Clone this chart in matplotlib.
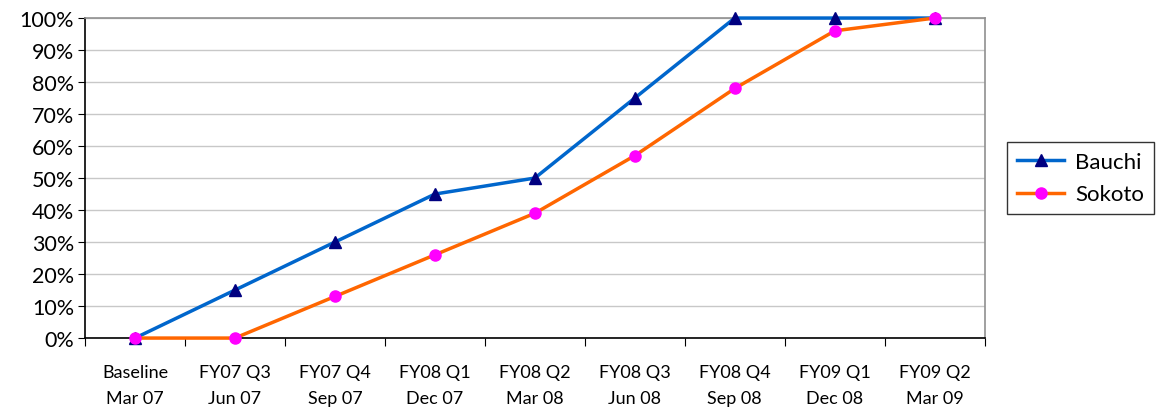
import matplotlib
matplotlib.use("Agg")
import matplotlib.pyplot as plt
from matplotlib.ticker import FixedLocator, NullFormatter, FuncFormatter

# data
periods = ["Baseline\nMar 07", "FY07 Q3\nJun 07", "FY07 Q4\nSep 07", "FY08 Q1\nDec 07",
           "FY08 Q2\nMar 08", "FY08 Q3\nJun 08", "FY08 Q4\nSep 08", "FY09 Q1\nDec 08",
           "FY09 Q2\nMar 09"]
bauchi = [0, 15, 30, 45, 50, 75, 100, 100, 100]
sokoto = [0, 0, 13, 26, 39, 57, 78, 96, 100]

plt.rcParams["font.family"] = ["Lato", "DejaVu Sans"]

fig = plt.figure(figsize=(11.57, 4.14), dpi=100)
ax = fig.add_axes([0.0735, 0.181, 0.7775, 0.773])

x = list(range(len(periods)))
ax.plot(x, bauchi, color="#0066CC", lw=2.5, marker="^", ms=9,
        mfc="#000080", mec="#000080", label="Bauchi", zorder=3, clip_on=False)
ax.plot(x, sokoto, color="#FF6600", lw=2.5, marker="o", ms=8,
        mfc="#FF00FF", mec="#FF00FF", label="Sokoto", zorder=4, clip_on=False)

ax.set_xlim(-0.5, len(periods) - 0.5)
ax.set_ylim(0, 100)
ax.set_yticks(range(0, 101, 10))
ax.yaxis.set_major_formatter(FuncFormatter(lambda v, p: f"{int(v)}%"))
ax.tick_params(axis="y", labelsize=15.5, length=5, direction="out", pad=3)

# category labels centred, tick marks on the boundaries
ax.xaxis.set_major_locator(FixedLocator([i - 0.5 for i in range(len(periods) + 1)]))
ax.xaxis.set_major_formatter(NullFormatter())
ax.xaxis.set_minor_locator(FixedLocator(x))
ax.set_xticklabels(periods, minor=True)
ax.tick_params(axis="x", which="major", length=6, direction="out")
ax.tick_params(axis="x", which="minor", length=0, labelsize=13, pad=19)
for lbl in ax.get_xticklabels(minor=True):
    lbl.set_linespacing(1.75)

ax.grid(axis="y", color="#C8C8C8", lw=1)
ax.set_axisbelow(True)
ax.spines["left"].set_color("black")
ax.spines["bottom"].set_color("black")
ax.spines["top"].set_color("#909090")
ax.spines["right"].set_color("#909090")
for s in ax.spines.values():
    s.set_linewidth(1.2)

leg = ax.legend(loc="center left", bbox_to_anchor=(0.861, 0.567), bbox_transform=fig.transFigure,
                fontsize=16, frameon=True, fancybox=False, edgecolor="black",
                handlelength=2.1, handletextpad=0.5, borderpad=0.45, labelspacing=0.55)
leg.get_frame().set_linewidth(1.0)

fig.savefig("out.png", dpi=100)
